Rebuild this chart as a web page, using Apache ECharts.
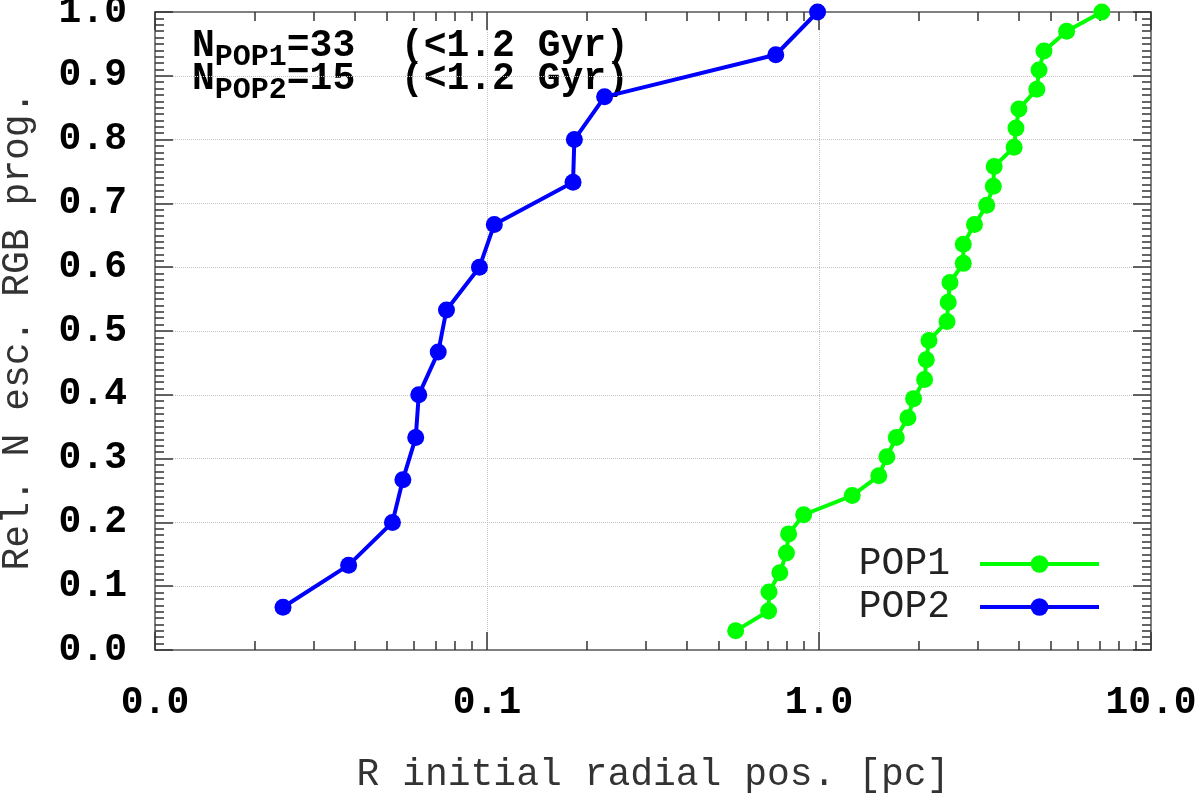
<!DOCTYPE html>
<html>
<head>
<meta charset="utf-8">
<script src="https://cdn.jsdelivr.net/npm/echarts@6/dist/echarts.min.js"></script>
<style>
html, body { margin: 0; padding: 0; background: #fff; }
#main { width: 1200px; height: 793px; }
</style>
</head>
<body>
<div id="main"></div>
<script>
// initial radial position [pc] of escaped RGB progenitors, POP1 (green)
const pop1R = [0.561, 0.705, 0.707, 0.762, 0.798, 0.810, 0.899, 1.259, 1.514, 1.601, 1.709,
    1.853, 1.927, 2.08, 2.105, 2.144, 2.43, 2.45, 2.48, 2.72, 2.72, 2.94, 3.20, 3.35, 3.37,
    3.87, 3.92, 4.00, 4.53, 4.60, 4.76, 5.57, 7.11];
const pop1Frac = [0.030, 0.061, 0.091, 0.121, 0.152, 0.182, 0.212, 0.242, 0.273, 0.303, 0.333,
    0.364, 0.394, 0.424, 0.455, 0.485, 0.515, 0.545, 0.576, 0.606, 0.636, 0.667, 0.697, 0.727,
    0.758, 0.788, 0.818, 0.848, 0.879, 0.909, 0.939, 0.970, 1.000];
// POP2 (blue)
const pop2R = [0.0243, 0.0383, 0.0519, 0.0558, 0.0610, 0.0623, 0.0713, 0.0755, 0.0949, 0.1052,
    0.1816, 0.1833, 0.226, 0.741, 0.99];
const pop2Frac = [0.067, 0.133, 0.200, 0.267, 0.333, 0.400, 0.467, 0.533, 0.600, 0.667,
    0.733, 0.800, 0.867, 0.933, 1.000];

const xMinorTicks = [0.02, 0.03, 0.04, 0.05, 0.06, 0.07, 0.08, 0.09,
    0.2, 0.3, 0.4, 0.5, 0.6, 0.7, 0.8, 0.9,
    2, 3, 4, 5, 6, 7, 8, 9];

const monoFont = '"Liberation Mono", "DejaVu Sans Mono", monospace';
const axisGrey = '#808080';
const tickColor = '#333';

function toPairs(xs, ys) {
    return xs.map((x, i) => [x, ys[i]]);
}

// x axis factory: major (labels, grid) or minor (short ticks only)
function makeX(position, minor) {
    const ax = {
        type: 'log',
        logBase: 10,
        min: 0.01,
        max: 10,
        position: position,
        axisLine: { show: !minor, onZero: false, lineStyle: { color: axisGrey, width: 2 } },
        axisTick: { show: true, inside: true, length: minor ? 9 : 18, lineStyle: { color: tickColor, width: 1.5 } },
        axisLabel: { show: false },
        splitLine: { show: false }
    };
    if (minor) ax.axisTick.customValues = xMinorTicks;
    return ax;
}

const chart = echarts.init(document.getElementById('main'));

const xBottom = makeX('bottom', false);
xBottom.axisLabel = {
    show: true, margin: 34, fontFamily: monoFont, fontWeight: 'bold', fontSize: 38, color: '#000',
    formatter: v => Number(v).toFixed(1)
};
xBottom.splitLine = { show: true, lineStyle: { type: 'dotted', color: '#c4c4c4', width: 1 } };
xBottom.name = 'R initial radial pos. [pc]';
xBottom.nameLocation = 'middle';
xBottom.nameGap = 106;
xBottom.nameTextStyle = { fontFamily: monoFont, fontSize: 38, color: '#333' };

function makeY(position, major) {
    return {
        type: 'value',
        min: 0,
        max: 1,
        interval: 0.1,
        position: position,
        axisLine: { show: true, onZero: false, lineStyle: { color: axisGrey, width: 2 } },
        axisTick: { show: true, inside: true, length: 18, lineStyle: { color: tickColor, width: 1.5 } },
        minorTick: { show: true, splitNumber: 10, length: 9, lineStyle: { color: tickColor, width: 1.5 } },
        axisLabel: major ? {
            show: true, margin: 28, fontFamily: monoFont, fontWeight: 'bold', fontSize: 38, color: '#000',
            formatter: v => v.toFixed(1)
        } : { show: false },
        splitLine: { show: major, lineStyle: { type: 'dotted', color: '#c4c4c4', width: 1 } }
    };
}
const yLeft = makeY('left', true);
yLeft.name = 'Rel. N esc. RGB prog.';
yLeft.nameLocation = 'middle';
yLeft.nameGap = 118;
yLeft.nameTextStyle = { fontFamily: monoFont, fontSize: 38, color: '#333' };

const rich = {
    n: { fontFamily: monoFont, fontWeight: 'bold', fontSize: 38, lineHeight: 38, color: '#000', verticalAlign: 'top' },
    s: { fontFamily: monoFont, fontWeight: 'bold', fontSize: 30, lineHeight: 30, color: '#000', verticalAlign: 'top', padding: [15, 0, 0, 0] }
};

const option = {
    animation: false,
    backgroundColor: '#fff',
    grid: { left: 155, right: 49, top: 12, bottom: 143, containLabel: false, outerBoundsMode: 'none' },
    xAxis: [xBottom, makeX('bottom', true), makeX('top', false), makeX('top', true)],
    yAxis: [yLeft, makeY('right', false)],
    legend: {
        orient: 'vertical',
        right: 99,
        top: 545,
        padding: 0,
        align: 'right',
        itemWidth: 119,
        itemHeight: 22,
        itemGap: 5,
        lineStyle: { width: 4 },
        textStyle: { fontFamily: monoFont, fontSize: 38, color: '#222', padding: [0, 25, 0, 0] },
        data: ['POP1', 'POP2']
    },
    graphic: [
        { type: 'text', left: 192, top: 27, style: { text: '{n|N}{s|POP1}{n|=33  (<1.2 Gyr)}', rich: rich } },
        { type: 'text', left: 192, top: 60, style: { text: '{n|N}{s|POP2}{n|=15  (<1.2 Gyr)}', rich: rich } }
    ],
    series: [
        {
            name: 'POP1', type: 'line', xAxisIndex: 0, yAxisIndex: 0, clip: false,
            data: toPairs(pop1R, pop1Frac),
            symbol: 'circle', symbolSize: 17,
            color: '#00ff00',
            lineStyle: { width: 4, color: '#00ff00' },
            itemStyle: { color: '#00ff00' }
        },
        {
            name: 'POP2', type: 'line', xAxisIndex: 0, yAxisIndex: 0, clip: false,
            data: toPairs(pop2R, pop2Frac),
            symbol: 'circle', symbolSize: 17,
            color: '#0000ff',
            lineStyle: { width: 4, color: '#0000ff' },
            itemStyle: { color: '#0000ff' }
        }
    ]
};
chart.setOption(option);
</script>
</body>
</html>
